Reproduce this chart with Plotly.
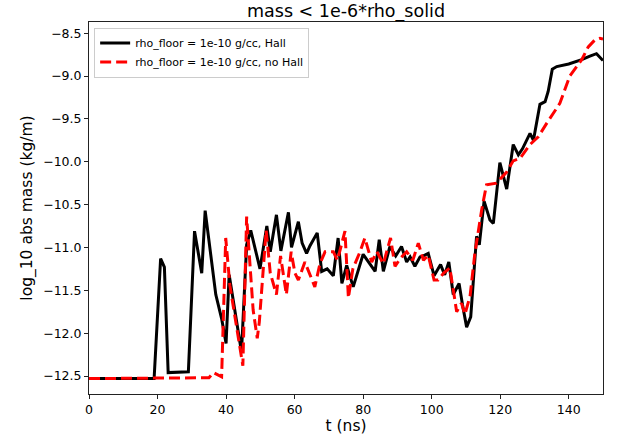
import plotly.graph_objects as go

title_text = "mass < 1e-6*rho_solid"
hall_label = "rho_floor = 1e-10 g/cc, Hall"
nohall_label = "rho_floor = 1e-10 g/cc, no Hall"

t_hall = [0, 19, 20.9, 22.0, 23.1, 29.0, 30.8, 32.9, 33.9, 35.8, 37.0, 38.7, 40.0, 40.9,
          44.5, 46.0, 47.2, 49.9, 51.9, 52.9, 54.7, 56.0, 58.2, 59.1, 61.1, 62.2, 63.5,
          64.5, 66.6, 67.9, 69.5, 71.3, 72.7, 73.8, 75.2, 77.1, 80.0, 83.5, 84.7, 85.9,
          87.8, 89.5, 91.2, 92.7, 93.7, 95.1, 96.6, 98.0, 99.0, 100.7, 102.6, 103.8,
          105.0, 106.3, 108.0, 109.0, 110.2, 111.4, 113.1, 113.9, 115.3, 117.0, 118.0,
          119.9, 121.9, 123.8, 125.3, 126.5, 128.7, 129.7, 131.6, 133.1, 134.0, 135.2,
          136.5, 140.0, 143.8, 146.0, 148.1, 150.0]
v_hall = [-12.53, -12.53, -11.13, -11.23, -12.46, -12.45, -10.81, -11.30, -10.57, -11.17,
          -11.55, -11.83, -12.12, -11.32, -12.22, -10.97, -10.80, -11.25, -10.75, -11.05,
          -10.62, -11.04, -10.59, -11.00, -10.70, -10.95, -11.07, -10.98, -10.83, -11.28,
          -11.25, -11.33, -10.89, -11.42, -11.21, -11.46, -11.08, -11.28, -10.91, -11.28,
          -10.99, -11.10, -10.99, -11.17, -11.11, -11.22, -11.11, -11.09, -11.07, -11.33,
          -11.20, -11.32, -11.17, -11.55, -11.42, -11.67, -11.93, -11.81, -10.87, -10.97,
          -10.46, -10.68, -10.72, -10.01, -10.32, -9.80, -9.92, -9.85, -9.67, -9.75,
          -9.33, -9.30, -9.18, -8.92, -8.89, -8.86, -8.81, -8.77, -8.74, -8.82]

t_nohall = [0, 35.0, 36.3, 38.7, 39.9, 41.1, 44.9, 46.0, 47.9, 49.1, 49.7, 51.7, 52.9,
            54.7, 55.9, 57.6, 59.0, 60.1, 61.1, 63.0, 65.9, 67.4, 68.9, 71.3, 72.5, 74.7,
            75.7, 77.0, 79.1, 80.5, 82.5, 84.0, 85.9, 88.0, 89.3, 91.0, 92.7, 94.5, 96.1,
            97.6, 99.0, 100.7, 101.9, 103.5, 105.3, 107.3, 108.7, 109.7, 111.2, 112.6,
            114.6, 116.0, 118.9, 121.9, 123.8, 125.8, 128.7, 131.1, 133.6, 135.5, 137.4,
            140.3, 143.8, 145.7, 147.6, 149.1, 150.0]
v_nohall = [-12.53, -12.52, -12.46, -12.51, -10.89, -11.44, -12.38, -10.64, -11.73, -12.06,
            -11.87, -10.80, -11.30, -11.55, -11.10, -11.55, -11.05, -11.30, -11.38, -11.17,
            -11.46, -11.19, -11.05, -11.05, -11.15, -10.81, -11.59, -11.25, -11.05, -10.89,
            -11.17, -11.05, -11.19, -10.89, -11.22, -11.12, -11.05, -11.15, -10.95, -11.15,
            -11.09, -11.38, -11.38, -11.30, -11.24, -11.75, -11.65, -11.78, -11.57, -11.07,
            -10.56, -10.27, -10.25, -10.12, -9.99, -9.96, -9.80, -9.71, -9.55, -9.43,
            -9.32, -9.00, -8.81, -8.66, -8.58, -8.56, -8.57]

x_ticks = [0, 20, 40, 60, 80, 100, 120, 140]
y_ticks = [-12.5, -12.0, -11.5, -11.0, -10.5, -10.0, -9.5, -9.0, -8.5]
y_ticklabels = ["\u221212.5", "\u221212.0", "\u221211.5", "\u221211.0", "\u221210.5",
                "\u221210.0", "\u22129.5", "\u22129.0", "\u22128.5"]

fig = go.Figure()
fig.add_trace(go.Scatter(x=t_hall, y=v_hall, mode="lines", name=hall_label,
                         line=dict(color="black", width=3)))
fig.add_trace(go.Scatter(x=t_nohall, y=v_nohall, mode="lines", name=nohall_label,
                         line=dict(color="red", width=3, dash="11px,5px")))

font = "DejaVu Sans"
axis_common = dict(showline=True, linecolor="#222", linewidth=1, mirror=True,
                   showgrid=False, zeroline=False, ticks="outside", ticklen=4,
                   tickwidth=1, tickcolor="#222",
                   tickfont=dict(family=font, size=12.5, color="black"))
fig.update_layout(
    width=629, height=443,
    margin=dict(l=89, r=26, t=22, b=49),
    paper_bgcolor="white", plot_bgcolor="white",
    title=dict(text=title_text, x=(89 + 603) / 2 / 629, xanchor="center",
               y=1 - 11 / 443, yanchor="middle",
               font=dict(family=font, size=17.5, color="black")),
    xaxis=dict(range=[0, 150], tickvals=x_ticks,
               title=dict(text="t (ns)", font=dict(family=font, size=15.5, color="black"),
                          standoff=4),
               **axis_common),
    yaxis=dict(range=[-12.71, -8.37], tickvals=y_ticks, ticktext=y_ticklabels,
               title=dict(text="log_10 abs mass (kg/m)",
                          font=dict(family=font, size=15.5, color="black"), standoff=6),
               **axis_common),
    legend=dict(x=0.01, y=0.985, xanchor="left", yanchor="top",
                bgcolor="rgba(255,255,255,0.8)", bordercolor="#ccc", borderwidth=1,
                font=dict(family=font, size=11, color="black"),
                itemwidth=30, tracegroupgap=0),
    showlegend=True,
)
fig.write_html("out.html")
